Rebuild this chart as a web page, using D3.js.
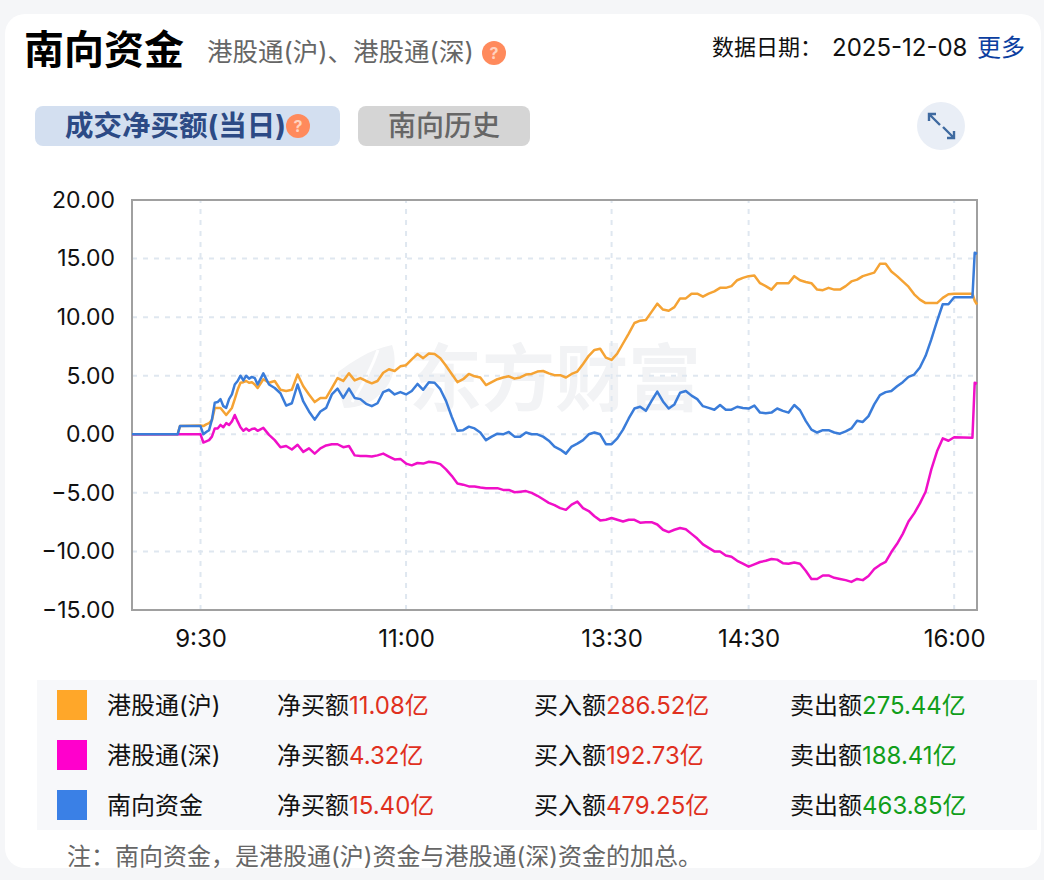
<!doctype html>
<html lang="zh-CN">

<head>
  <meta charset="utf-8">
  <title>南向资金 - D3</title>
  <style>
    html, body { margin: 0; padding: 0; background: #f5f6f8; }
    svg { display: block; }
    text { font-family: Inter, "Noto Sans CJK SC", sans-serif; }
  </style>
</head>

<body>
  <svg width="1044" height="880"></svg>

  <script src="https://cdn.jsdelivr.net/npm/d3@7/dist/d3.min.js"></script>
  <script>
    // minutes after 9:00, lunch break taken out
    var minutes = [0, 20, 21, 30,
      31.25, 32.5, 33.75, 35, 36.25, 37.5, 38.75, 40, 41.25, 42.5, 43.75, 45, 46.25, 47.5, 48.75, 50, 51.25, 52.5, 53.75,
      55, 57.5, 60, 62.5, 65, 67.5, 70, 72.5, 75, 77.5,
      80, 82.5, 85, 87.5, 90, 92.5, 95, 97.5, 100, 102.5,
      105, 107.5, 110, 112.5, 115, 117.5, 120, 122.5, 125, 127.5,
      130, 132.5, 135, 137.5, 140, 142.5, 145, 147.5, 150, 152.5,
      155, 157.5, 160, 162.5, 165, 167.5, 170, 172.5, 175, 177.5,
      180, 182.5, 185, 187.5, 190, 192.5, 195, 197.5, 200, 202.5,
      205, 207.5, 210, 212.5, 215, 217.5, 220, 222.5, 225, 227.5,
      230, 232.5, 235, 237.5, 240, 242.5, 245, 247.5, 250, 252.5,
      255, 257.5, 260, 262.5, 265, 267.5, 270, 272.5, 275, 277.5,
      280, 282.5, 285, 287.5, 290, 292.5, 295, 297.5, 300, 302.5,
      305, 307.5, 310, 312.5, 315, 317.5, 320, 322.5, 325, 327.5,
      330, 332.5, 335, 337.5, 340, 342.5, 345, 347.5, 350, 352.5,
      355, 357.5, 360, 368, 369, 370];

    var shValues = [0, 0, .7, .75,
      .7, .85, .95, 1.2, 2.25, 2.25, 2.25, 1.95, 1.65, 1.95, 2.25, 3, 3.8, 4.4, 4.45, 4.55, 4.4, 4.45, 4.25,
      3.95, 4.7, 4.4, 4.55, 3.8, 3.7, 3.8, 5.1, 4.1, 3.4,
      2.75, 3.1, 3.1, 3.95, 4.8, 4.55, 5.2, 4.6, 4.8, 4.55,
      4.35, 4.55, 5.25, 5.55, 5.4, 5.8, 5.9, 6.4, 6.85, 6.5,
      6.9, 6.85, 6.5, 5.85, 5.15, 4.45, 4.7, 5.15, 4.95, 4.85,
      4.2, 4.45, 4.7, 4.85, 4.95, 4.75, 4.85, 5.1, 5.15, 5.35,
      5.4, 5.2, 5.05, 5.05, 4.85, 5.15, 5.35, 6, 6.7, 7.2,
      7.3, 6.55, 6.35, 6.9, 7.75, 8.6, 9.5, 9.7, 9.75, 10.45,
      11.15, 10.65, 10.55, 10.85, 11.6, 11.6, 12, 12, 11.75, 12,
      12.2, 12.5, 12.5, 12.65, 13.15, 13.35, 13.5, 13.55, 12.9, 12.65,
      12.35, 12.9, 12.9, 12.9, 13.5, 13.15, 13, 12.9, 12.35, 12.3,
      12.5, 12.35, 12.35, 12.65, 13.05, 13.2, 13.5, 13.65, 13.8, 14.55,
      14.55, 13.9, 13.5, 13.05, 12.6, 11.95, 11.5, 11.2, 11.2, 11.2,
      11.65, 11.95, 12, 12, 11.4, 11.08];

    var szValues = [0, 0, 0, 0,
      -.7, -.6, -.5, -.2, .5, .5, .8, .6, .95, .8, 1.1, 1.65, 1.1, .6, .3, .5, .3, .45, .5,
      .3, .55, -.05, -.5, -1.1, -1, -1.3, -.9, -1.5, -1.2,
      -1.65, -1.2, -.95, -.85, -.85, -1.1, -1, -1.8, -1.85, -1.85,
      -1.9, -1.8, -1.65, -1.9, -2.15, -2.1, -2.5, -2.65, -2.45, -2.5,
      -2.35, -2.4, -2.55, -3, -3.55, -4.2, -4.3, -4.45, -4.45, -4.55,
      -4.6, -4.6, -4.6, -4.75, -4.75, -4.95, -4.9, -4.85, -5, -5.25,
      -5.55, -5.85, -6.05, -6.3, -6.45, -6, -5.75, -6.3, -6.55, -7,
      -7.35, -7.3, -7.15, -7.3, -7.45, -7.3, -7.3, -7.55, -7.5, -7.5,
      -7.7, -8.15, -8.35, -8.15, -8, -8.1, -8.5, -8.9, -9.4, -9.7,
      -10, -10, -10.35, -10.45, -10.8, -11.05, -11.3, -11.1, -10.9, -10.8,
      -10.65, -10.7, -11, -11.05, -10.95, -11.05, -11.65, -12.35, -12.35, -12.05,
      -12.05, -12.25, -12.35, -12.45, -12.6, -12.35, -12.45, -12.1, -11.5, -11.15,
      -10.9, -10.05, -9.35, -8.5, -7.45, -6.75, -5.9, -4.9, -3, -1.45,
      -.35, -.55, -.25, -.3, 4.4, 4.32];

    var southValues = [0, 0, .7, .7,
      0, .2, .35, 1.25, 2.7, 2.75, 3, 2.4, 2.25, 3, 3.4, 4.25, 4.55, 5, 4.6, 5, 4.75, 4.9, 4.8,
      4.25, 5.2, 4.25, 3.95, 3.5, 2.45, 2.65, 4.25, 2.8, 1.95,
      1.25, 1.95, 2.25, 3.4, 3.9, 3.1, 3.9, 3.1, 3, 2.6,
      2.4, 2.65, 3.6, 3.8, 3.4, 3.6, 3.4, 3.7, 4.3, 3.8,
      4.45, 4.4, 3.85, 2.85, 1.5, .3, .35, .65, .5, .15,
      -.5, -.2, .05, 0, .2, -.2, -.2, .15, 0, 0,
      -.2, -.55, -1.05, -1.3, -1.65, -1.05, -.8, -.5, 0, .15,
      0, -.85, -.85, -.35, .4, 1.35, 2.2, 2.35, 2, 2.85,
      3.65, 2.8, 2.2, 2.55, 3.55, 3.7, 3.3, 3, 2.4, 2.25,
      2.1, 2.5, 2.1, 2.1, 2.35, 2.25, 2.2, 2.45, 1.85, 1.8,
      1.85, 2.2, 2, 1.85, 2.5, 2.05, 1.15, .4, .15, .35,
      .35, .15, .05, .25, .5, 1.15, 1.05, 1.55, 2.55, 3.35,
      3.6, 3.7, 4.1, 4.45, 4.9, 5.1, 5.7, 6.7, 8.1, 9.65,
      11.1, 11.1, 11.7, 11.7, 15.5, 15.4];

    var yTicks = [20, 15, 10, 5, 0, -5, -10, -15];
    var xTicks = [30, 120, 210, 270, 360];
    var xTickLabels = ['9:30', '11:00', '13:30', '14:30', '16:00'];

    var legendNames = ['港股通(沪)', '港股通(深)', '南向资金'];
    var netBuy = ['11.08亿', '4.32亿', '15.40亿'];
    var buyIn = ['286.52亿', '192.73亿', '479.25亿'];
    var sellOut = ['275.44亿', '188.41亿', '463.85亿'];
    var swatchColors = ['#ffa729', '#ff00cc', '#3a80e6'];
    var lineColors = ['#f5a334', '#f00fc8', '#3a7cd9'];

    var svg = d3.select('svg');

    // small helper, most of the page is plain labels
    function label(x, y, str, size, color, weight, anchor) {
      return svg.append('text')
        .attr('x', x).attr('y', y).attr('dy', '.36em')
        .attr('font-size', size)
        .attr('font-weight', weight || 400)
        .attr('text-anchor', anchor || 'start')
        .attr('fill', color)
        .text(str);
    }

    function helpIcon(cx, cy) {
      svg.append('circle').attr('cx', cx).attr('cy', cy).attr('r', 12).attr('fill', '#ff8a5c');
      label(cx, cy, '?', 16, '#ffd2bf', 700, 'middle');
    }

    // card
    svg.append('rect').attr('x', 5).attr('y', 14).attr('width', 1036).attr('height', 854)
      .attr('rx', 20).attr('fill', '#fff');

    // header
    label(24, 50, '南向资金', 40, '#000', 700);
    label(207, 52, '港股通(沪)、港股通(深)', 25.5, '#666');
    helpIcon(494, 53);
    label(712, 47, '数据日期\uFF1A', 22, '#111');
    label(832, 47, '2025-12-08', 24, '#111');
    label(977, 47, '更多', 24, '#0b3ea0');

    // tabs
    svg.append('rect').attr('x', 35).attr('y', 106).attr('width', 305).attr('height', 40).attr('rx', 8).attr('fill', '#d3dff0');
    label(65, 126, '成交净买额(当日)', 28.5, '#2c4a85', 700);
    helpIcon(298, 126);
    svg.append('rect').attr('x', 358).attr('y', 106).attr('width', 172).attr('height', 40).attr('rx', 8).attr('fill', '#d5d5d5');
    label(388, 126, '南向历史', 28, '#666', 500);

    // expand button
    svg.append('circle').attr('cx', 941).attr('cy', 126).attr('r', 24).attr('fill', '#e9eef6');
    svg.append('path')
      .attr('d', 'M929 121V114H936M929 114L940 125M954 131V138H947M954 138L943 127')
      .attr('fill', 'none').attr('stroke', '#3f6aa0').attr('stroke-width', 2.4);

    // scales
    var x = d3.scaleLinear().domain([0, 370]).range([132, 977]);
    var y = d3.scaleLinear().domain([-15, 20]).range([610, 200]);

    // watermark sits under the grid
    var mark = svg.append('g').attr('fill', '#f2f3f5');
    mark.append('path').attr('d', 'M338 372C352 362 368 350 392 345C398 362 394 384 378 396C372 402 358 408 344 408C340 396 338 384 338 372Z');
    mark.append('path').attr('d', 'M352 402C362 386 372 368 378 350').attr('fill', 'none').attr('stroke', '#fff').attr('stroke-width', 3);
    mark.append('text').attr('x', 409).attr('y', 405).attr('font-size', 73).attr('font-weight', 700).text('东方财富');

    // grid
    var grid = svg.append('g').attr('stroke', '#dfe7f0').attr('stroke-width', 2).attr('stroke-dasharray', '5 6');
    grid.selectAll('.gy').data(yTicks.slice(1, -1)).enter().append('line')
      .attr('x1', x(0)).attr('x2', x(370))
      .attr('y1', d => y(d)).attr('y2', d => y(d));
    grid.selectAll('.gx').data(xTicks).enter().append('line')
      .attr('y1', y(-15)).attr('y2', y(20))
      .attr('x1', d => x(d)).attr('x2', d => x(d));

    // frame
    svg.append('rect')
      .attr('x', x(0)).attr('y', y(20))
      .attr('width', x(370) - x(0)).attr('height', y(-15) - y(20))
      .attr('fill', 'none').attr('stroke', '#a0a0a0').attr('stroke-width', 2);

    // axes
    var yAxis = svg.append('g').attr('transform', 'translate(' + x(0) + ',0)')
      .call(d3.axisLeft(y).tickValues(yTicks).tickSize(0).tickPadding(17).tickFormat(d3.format('.2f')));
    var xAxis = svg.append('g').attr('transform', 'translate(0,' + y(-15) + ')')
      .call(d3.axisBottom(x).tickValues(xTicks).tickSize(0).tickPadding(20)
        .tickFormat((d, i) => xTickLabels[i]));
    [yAxis, xAxis].forEach((a, i) => {
      a.select('.domain').remove();
      a.selectAll('text').attr('font-size', i ? 24 : 23).attr('fill', '#111')
        .style('font-family', 'Inter, "Noto Sans CJK SC", sans-serif');
    });

    // lines
    var line = d3.line()
      .x((d, i) => x(minutes[i]))
      .y(d => y(d));
    svg.selectAll('.series').data([shValues, szValues, southValues]).enter()
      .append('path')
      .attr('class', 'series')
      .attr('d', line)
      .attr('fill', 'none')
      .attr('stroke', (d, i) => lineColors[i])
      .attr('stroke-width', 2.5)
      .attr('stroke-linejoin', 'round');

    // legend table
    svg.append('rect').attr('x', 37).attr('y', 680).attr('width', 1000).attr('height', 150).attr('fill', '#f7f8fa');
    legendNames.forEach((name, i) => {
      var rowY = 705 + i * 50;
      svg.append('rect').attr('x', 57).attr('y', rowY - 15).attr('width', 30).attr('height', 30).attr('fill', swatchColors[i]);
      label(107, rowY, name, 24, '#111');
      label(277, rowY, '净买额', 24, '#111');
      label(349, rowY, netBuy[i], 24, '#e0301e');
      label(534, rowY, '买入额', 24, '#111');
      label(606, rowY, buyIn[i], 24, '#e0301e');
      label(790, rowY, '卖出额', 24, '#111');
      label(862, rowY, sellOut[i], 24, '#119e1a');
    });

    label(67, 856, '注\uFF1A南向资金\uFF0C是港股通(沪)资金与港股通(深)资金的加总。', 24, '#666');
  </script>
</body>

</html>
